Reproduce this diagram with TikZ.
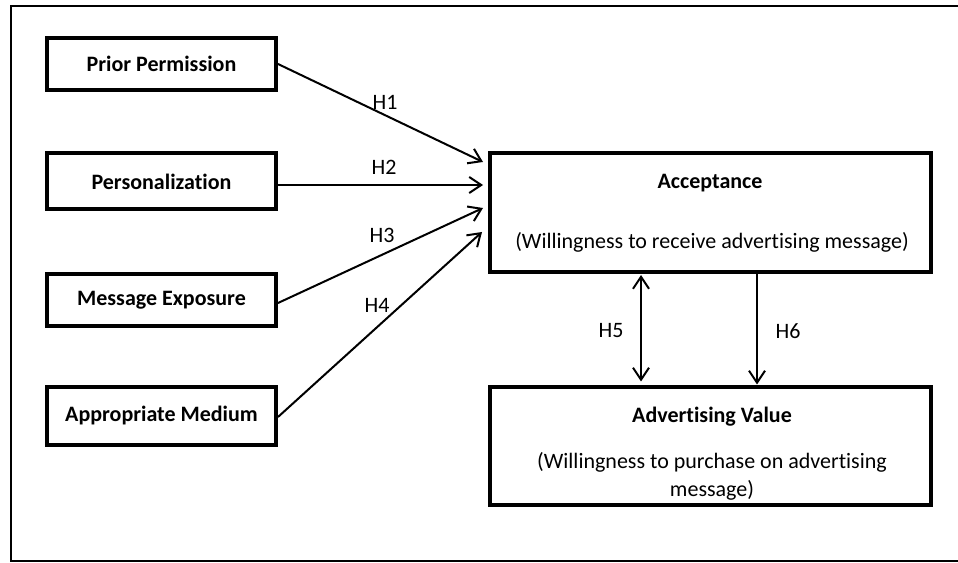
\documentclass[tikz,border=0pt]{standalone}
\usepackage{fontspec}
\setmainfont[Ligatures={NoCommon}]{Carlito}
\usetikzlibrary{arrows.meta,calc}
\begin{document}
\begin{tikzpicture}[x=0.75pt,y=-0.75pt,
  every node/.style={font=\fontsize{16.5pt}{21pt}\selectfont},
  lbox/.style={draw,line width=3pt,minimum width=229*0.75pt,align=center,inner sep=0pt},
  bigbox/.style={draw,line width=3pt,minimum width=441*0.75pt,align=center,inner sep=0pt},
  conn/.style={line width=1.5pt,-{Straight Barb[length=9pt,width=12pt,line width=1.5pt]}},
  hlabel/.style={inner sep=0pt}]
\useasboundingbox (0,0) rectangle (958,563);
\draw[line width=1.5pt] (959,6) -- (11,6) -- (11,561) -- (959,561);
% left boxes
\node[lbox,minimum height=52*0.75pt] (b1) at (161.5,64) {\textbf{Prior Permission}};
\node[lbox,minimum height=56*0.75pt] (b2) at (161.5,181.5) {\textbf{Personalization}};
\node[lbox,minimum height=52*0.75pt] (b3) at (161.5,300.5) {\textbf{Message Exposure}};
\node[lbox,minimum height=57*0.75pt] (b4) at (161.5,416) {\textbf{Appropriate Medium}};
% right boxes
\node[bigbox,minimum height=119*0.75pt] (acc) at (710.5,212.5) {};
\node (acct) at (710,183) {\textbf{Acceptance}};
\node (accs) at (712,242) {(Willingness to receive advertising message)};
\node[bigbox,minimum height=117*0.75pt] (adv) at (710.5,446) {};
\node (advt) at (712,417) {\textbf{Advertising Value}};
\node[align=center] (advs) at (712,476) {(Willingness to purchase on advertising\\message)};
% arrows
\draw[conn] (b1.east) -- ($(acc.north west)+(-5,11)$);
\draw[conn] ($(b2.east)+(0,3.5)$) -- ($(acc.north west)+(-5,34)$);
\draw[conn] ($(b3.east)+(0,2.5)$) -- ($(acc.north west)+(-5,57)$);
\draw[conn] ($(b4.east)+(0,1)$) -- ($(acc.north west)+(-6,81)$);
\draw[line width=1.5pt,{Straight Barb[length=9pt,width=12pt,line width=1.5pt]}-{Straight Barb[length=9pt,width=12pt,line width=1.5pt]}]
  ($(acc.south west)+(153,1)$) -- ($(adv.north west)+(153,-4)$);
\draw[conn] ($(acc.south west)+(269,-2)$) -- ($(adv.north west)+(269,-1)$);
% labels
\node[hlabel] (h1) at (385,102) {H1};
\node[hlabel] (h2) at (384,167) {H2};
\node[hlabel] (h3) at (382,235) {H3};
\node[hlabel] (h4) at (377,305) {H4};
\node[hlabel] (h5) at (611,331) {H5};
\node[hlabel] (h6) at (788,331) {H6};
\end{tikzpicture}
\end{document}
